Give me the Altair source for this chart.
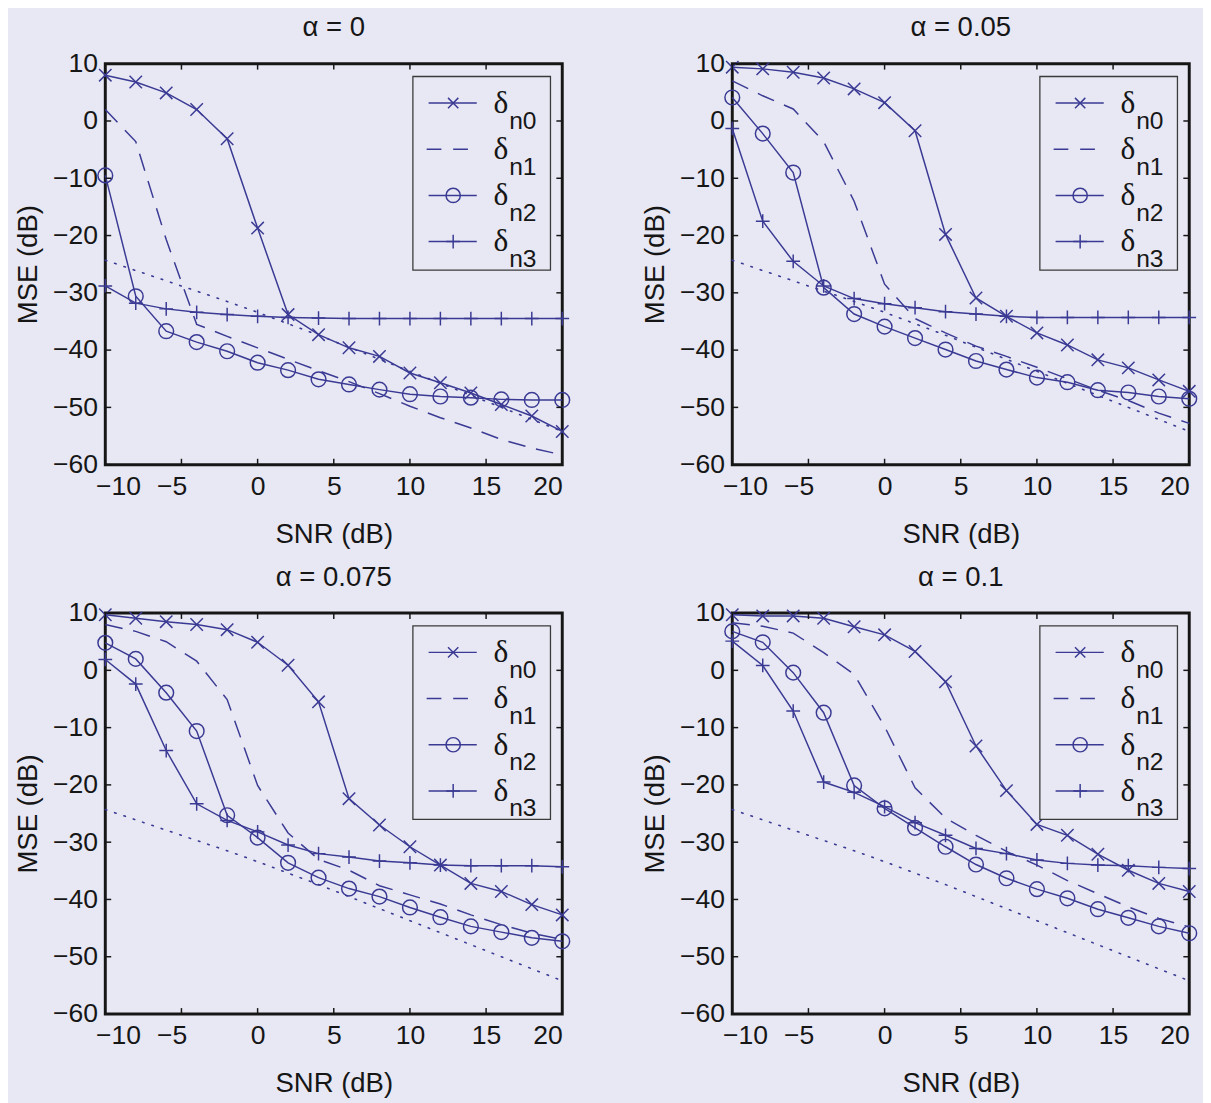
import altair as alt
import pandas as pd

# ---------------- data ----------------
SNR = [-10, -8, -6, -4, -2, 0, 2, 4, 6, 8, 10, 12, 14, 16, 18, 20]
X_TICKS = [-10, -5, 0, 5, 10, 15, 20]
Y_TICKS = [-60, -50, -40, -30, -20, -10, 0, 10]
TITLES = ["α = 0", "α = 0.05", "α = 0.075", "α = 0.1"]
SERIES = ["n0", "n1", "n2", "n3"]

# alpha = 0
P1_N0 = [8.0, 6.8, 4.9, 2.0, -3.1, -18.7, -33.8, -37.3, -39.6, -41.1, -44.0, -45.7, -47.5, -49.5, -51.5, -54.2]
P1_N1 = [2.0, -3.6, -20.7, -35.5, -37.6, -39.6, -41.6, -43.6, -45.5, -47.6, -49.8, -51.8, -53.6, -55.6, -57.1, -58.3]
P1_N2 = [-9.5, -30.6, -36.7, -38.6, -40.2, -42.2, -43.5, -45.1, -46.0, -46.9, -47.7, -48.1, -48.3, -48.6, -48.7, -48.7]
P1_N3 = [-28.8, -31.8, -32.8, -33.4, -33.8, -34.1, -34.3, -34.4, -34.5, -34.5, -34.5, -34.5, -34.5, -34.5, -34.5, -34.5]
# alpha = 0.05
P2_N0 = [9.4, 9.1, 8.5, 7.5, 5.6, 3.2, -1.7, -19.8, -30.9, -34.1, -37.0, -39.1, -41.7, -43.1, -45.2, -47.2]
P2_N1 = [7.0, 4.4, 2.1, -3.6, -14.0, -28.5, -34.5, -37.0, -39.3, -41.1, -43.0, -45.0, -47.0, -48.8, -51.0, -52.8]
P2_N2 = [4.1, -2.2, -9.0, -29.1, -33.7, -35.9, -37.9, -39.9, -41.9, -43.4, -44.8, -45.6, -47.0, -47.4, -48.1, -48.5]
P2_N3 = [-1.3, -17.5, -24.5, -28.8, -31.0, -31.9, -32.6, -33.3, -33.7, -34.1, -34.3, -34.3, -34.3, -34.3, -34.3, -34.3]
# alpha = 0.075
P3_N0 = [9.7, 9.1, 8.5, 8.0, 7.1, 4.9, 0.9, -5.5, -22.4, -27.0, -30.8, -34.0, -37.2, -38.6, -40.9, -42.7]
P3_N1 = [8.0, 6.8, 5.0, 1.6, -5.1, -20.1, -28.4, -33.0, -34.9, -37.6, -39.2, -40.8, -42.7, -44.4, -45.9, -47.0]
P3_N2 = [4.8, 2.0, -3.9, -10.6, -25.3, -29.2, -33.6, -36.2, -38.1, -39.5, -41.4, -43.1, -44.7, -45.7, -46.7, -47.3]
P3_N3 = [1.9, -2.4, -14.0, -23.3, -26.2, -28.2, -30.5, -32.0, -32.6, -33.3, -33.6, -34.0, -34.1, -34.1, -34.1, -34.3]
# alpha = 0.1
P4_N0 = [9.7, 9.5, 9.5, 9.1, 7.6, 6.2, 3.3, -2.0, -13.2, -21.0, -26.9, -28.8, -32.1, -34.9, -37.2, -38.6]
P4_N1 = [8.3, 7.7, 6.5, 3.1, -0.7, -9.8, -20.5, -25.8, -28.8, -31.6, -34.0, -36.7, -39.0, -41.3, -43.3, -44.8]
P4_N2 = [6.8, 4.9, -0.4, -7.4, -20.1, -24.1, -27.5, -30.8, -33.9, -36.3, -38.2, -39.8, -41.7, -43.2, -44.7, -45.9]
P4_N3 = [5.1, 0.85, -7.1, -19.5, -21.3, -23.8, -26.6, -28.8, -31.1, -32.0, -33.1, -33.7, -34.0, -34.1, -34.4, -34.6]
# dotted reference curve (same in every panel)
BOUND = [-24.3, -26.1, -27.9, -29.7, -31.5, -33.4, -35.4, -37.4, -39.5, -41.6, -43.7, -45.8, -47.9, -50.0, -52.1, -54.2]

PANELS = [
    [P1_N0, P1_N1, P1_N2, P1_N3],
    [P2_N0, P2_N1, P2_N2, P2_N3],
    [P3_N0, P3_N1, P3_N2, P3_N3],
    [P4_N0, P4_N1, P4_N2, P4_N3],
]

# ---------------- style ----------------
BG = "#e8e8f4"
LINE = "#3a3a94"
INK = "#161616"
FONT = "Liberation Sans"
W, H = 465, 408
XPATH = "M-1,-1L1,1M-1,1L1,-1"
PPATH = "M-1,0L1,0M0,-1L0,1"
TICK = 6
LBL = 27
TTL = 28

xscale = alt.Scale(domain=[-10, 20], nice=False, zero=False)
yscale = alt.Scale(domain=[-60, 10], nice=False, zero=False)
xaxis = alt.Axis(values=X_TICKS, ticks=False, domain=False, grid=False, labelPadding=9,
                 titlePadding=22, format="d",
                 labelOffset={"condition": {"test": "datum.value < 0", "value": -10}, "value": 0})
yaxis = alt.Axis(values=Y_TICKS, ticks=False, domain=False, grid=False, labelPadding=8,
                 titlePadding=10, format="d")


def X():
    return alt.X("snr:Q", scale=xscale, axis=xaxis, title="SNR (dB)")


def Y():
    return alt.Y("mse:Q", scale=yscale, axis=yaxis, title="MSE (dB)")


def panel(idx):
    vals = PANELS[idx]
    recs = []
    for name, ser in zip(SERIES, vals):
        for s, m in zip(SNR, ser):
            recs.append({"snr": s, "mse": m, "series": name})
    for s, m in zip(SNR, BOUND):
        recs.append({"snr": s, "mse": m, "series": "bound"})
    df = pd.DataFrame(recs)
    base = alt.Chart(df).encode(x=X(), y=Y())

    def sel(name):
        return base.transform_filter(alt.datum.series == name)

    layers = [
        sel("bound").mark_line(color=LINE, strokeWidth=1.6, strokeDash=[1.6, 8.4], strokeCap="round"),
        sel("n0").mark_line(color=LINE, strokeWidth=1.5),
        sel("n0").mark_point(shape=XPATH, size=160, filled=False, color=LINE, strokeWidth=1.5, opacity=1),
        sel("n1").mark_line(color=LINE, strokeWidth=1.5, strokeDash=[18, 11]),
        sel("n2").mark_line(color=LINE, strokeWidth=1.5),
        sel("n2").mark_point(shape="circle", size=225, filled=False, color=LINE, strokeWidth=1.5, opacity=1),
        sel("n3").mark_line(color=LINE, strokeWidth=1.5),
        sel("n3").mark_point(shape=PPATH, size=196, filled=False, color=LINE, strokeWidth=1.5, opacity=1),
    ]

    # inward ticks on all four sides
    xt = alt.Chart(pd.DataFrame({"snr": X_TICKS}))
    yt = alt.Chart(pd.DataFrame({"mse": Y_TICKS}))
    layers += [
        xt.mark_rule(color=INK, strokeWidth=1.5).encode(x=X(), y=alt.value(0), y2=alt.value(TICK)),
        xt.mark_rule(color=INK, strokeWidth=1.5).encode(x=X(), y=alt.value(H - TICK), y2=alt.value(H)),
        yt.mark_rule(color=INK, strokeWidth=1.5).encode(y=Y(), x=alt.value(0), x2=alt.value(TICK)),
        yt.mark_rule(color=INK, strokeWidth=1.5).encode(y=Y(), x=alt.value(W - TICK), x2=alt.value(W)),
    ]

    # legend box
    one = alt.Chart(pd.DataFrame({"k": [0]}))
    layers.append(one.mark_rect(fill=BG, stroke="#3a3a3a", strokeWidth=1.3).encode(
        x=alt.value(313), x2=alt.value(453), y=alt.value(13), y2=alt.value(210)))
    rows = [40, 87, 134, 181]
    for name, ry in zip(SERIES, rows):
        if name == "n1":
            layers.append(one.mark_rule(color=LINE, strokeWidth=1.5, strokeDash=[15, 12]).encode(
                x=alt.value(327), x2=alt.value(380), y=alt.value(ry)))
        else:
            layers.append(one.mark_rule(color=LINE, strokeWidth=1.5).encode(
                x=alt.value(329), x2=alt.value(378), y=alt.value(ry)))
        if name == "n0":
            layers.append(one.mark_point(shape=XPATH, size=110, filled=False, color=LINE, strokeWidth=1.5,
                                         opacity=1).encode(x=alt.value(354), y=alt.value(ry)))
        elif name == "n2":
            layers.append(one.mark_point(shape="circle", size=210, filled=False, color=LINE, strokeWidth=1.5,
                                         opacity=1).encode(x=alt.value(354), y=alt.value(ry)))
        elif name == "n3":
            layers.append(one.mark_point(shape=PPATH, size=196, filled=False, color=LINE, strokeWidth=1.5,
                                         opacity=1).encode(x=alt.value(354), y=alt.value(ry)))
        layers.append(one.mark_text(text="δ", align="left", baseline="alphabetic", font="Liberation Serif",
                                    fontSize=32, color=INK).encode(x=alt.value(395), y=alt.value(ry + 10)))
        layers.append(one.mark_text(text=name, align="left", baseline="alphabetic", font=FONT,
                                    fontSize=25, color=INK).encode(x=alt.value(411), y=alt.value(ry + 26)))

    return alt.layer(*layers).properties(
        width=W, height=H,
        title=alt.Title(TITLES[idx], fontSize=TTL, font=FONT, fontWeight="normal", color=INK,
                        anchor="middle", offset=8),
    )


top = alt.hconcat(panel(0), panel(1), spacing=67)
bottom = alt.hconcat(panel(2), panel(3), spacing=67)
chart = alt.vconcat(top, bottom, spacing=12).properties(
    background=BG, padding={"left": 5, "top": -5, "right": 2, "bottom": 2}
).configure_view(
    stroke=INK, strokeWidth=3
).configure_axis(
    labelFont=FONT, labelFontSize=LBL, labelColor=INK,
    titleFont=FONT, titleFontSize=TTL, titleFontWeight="normal", titleColor=INK,
)

chart.save("out.html", embed_options={"renderer": "svg", "actions": False})
